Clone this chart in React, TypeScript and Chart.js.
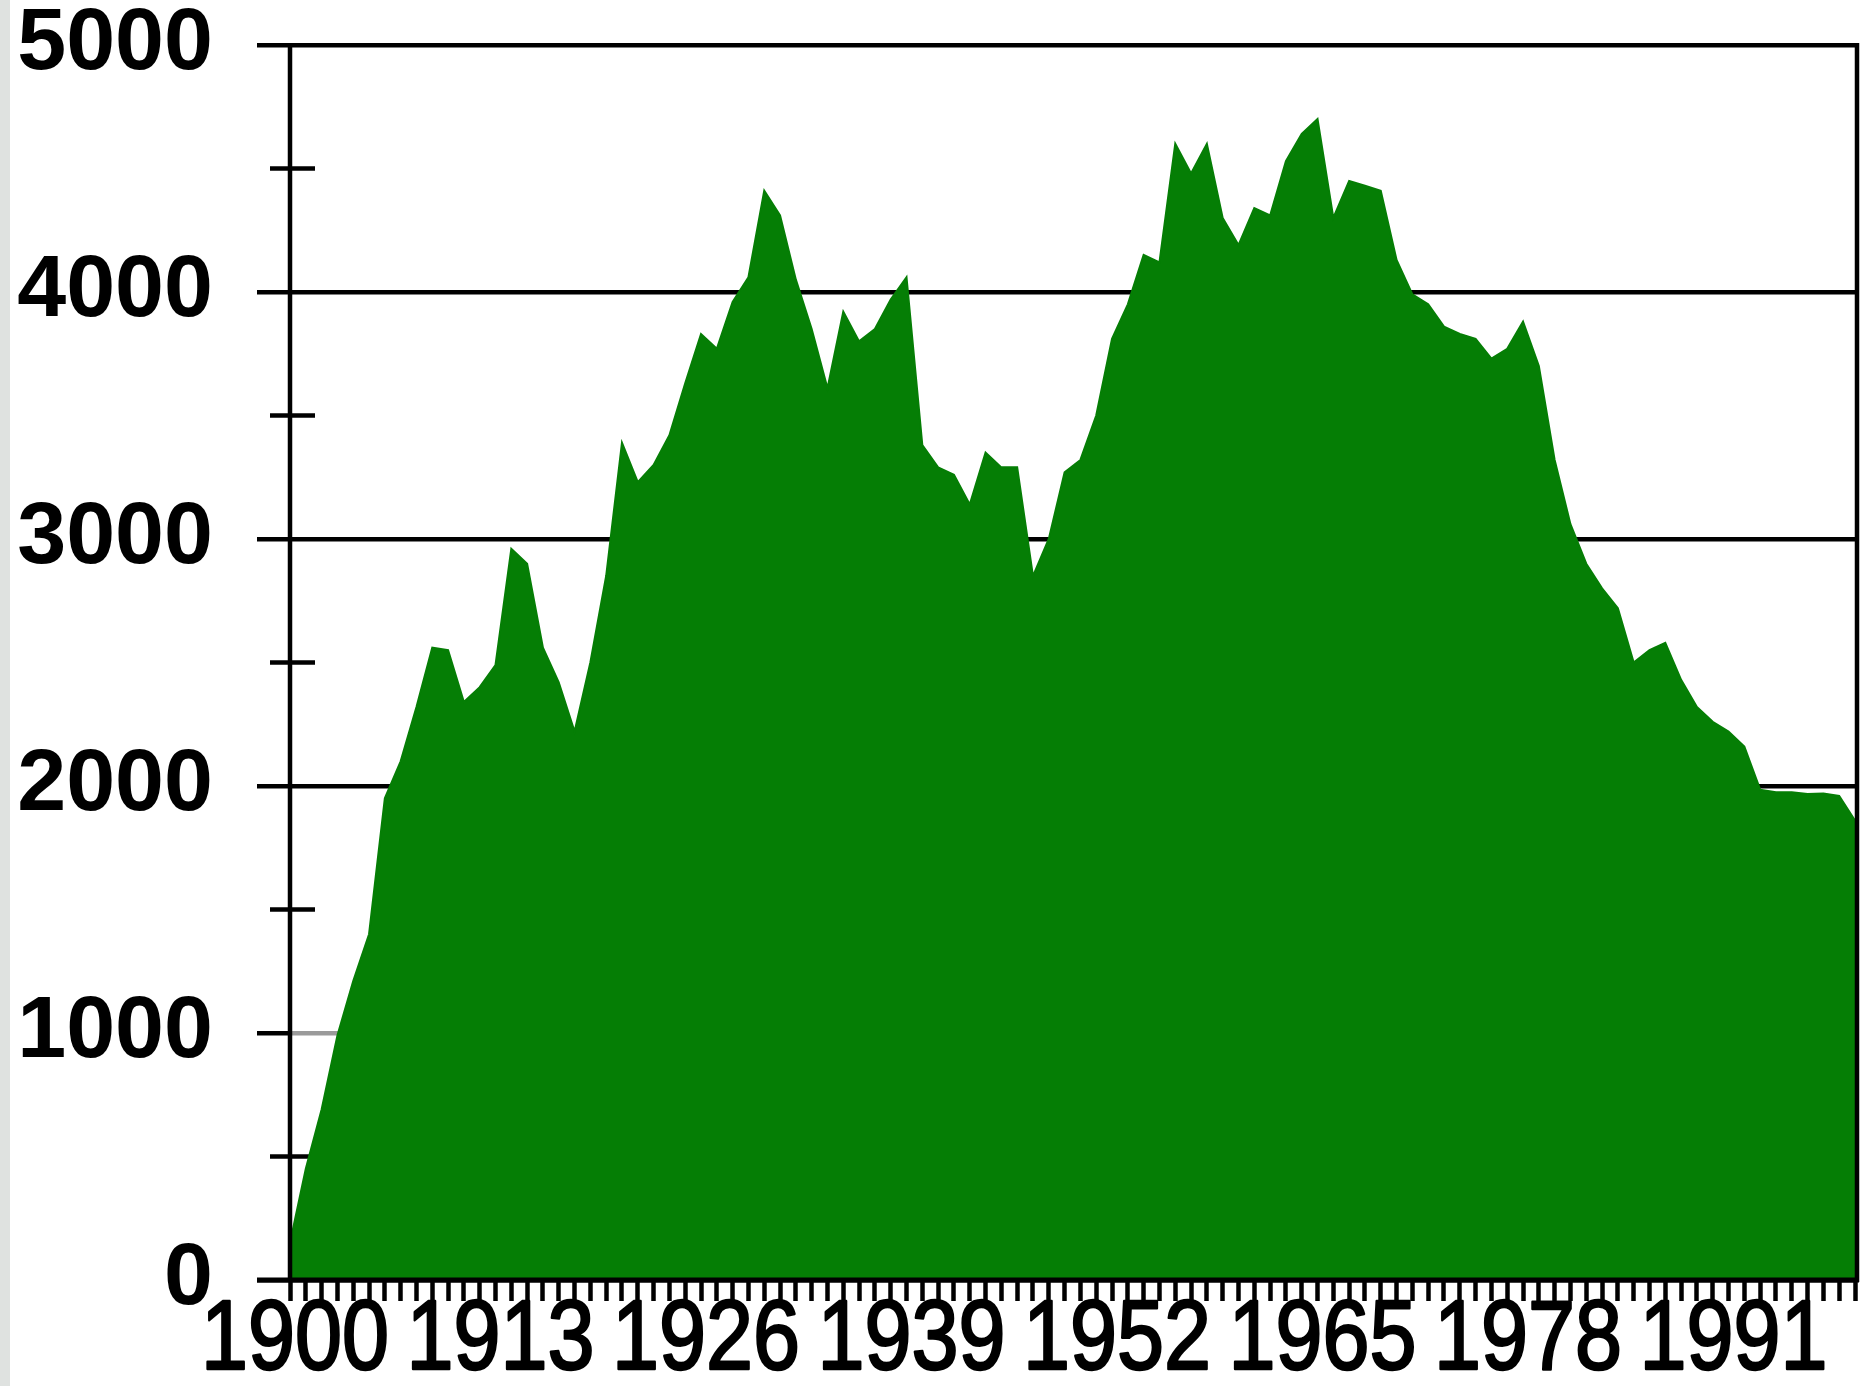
import React, { useEffect, useRef } from 'react';
import { Chart, registerables } from 'chart.js';

Chart.register(...registerables);

const years: string[] = [
  '1900','1901','1902','1903','1904','1905','1906','1907','1908','1909',
  '1910','1911','1912','1913','1914','1915','1916','1917','1918','1919',
  '1920','1921','1922','1923','1924','1925','1926','1927','1928','1929',
  '1930','1931','1932','1933','1934','1935','1936','1937','1938','1939',
  '1940','1941','1942','1943','1944','1945','1946','1947','1948','1949',
  '1950','1951','1952','1953','1954','1955','1956','1957','1958','1959',
  '1960','1961','1962','1963','1964','1965','1966','1967','1968','1969',
  '1970','1971','1972','1973','1974','1975','1976','1977','1978','1979',
  '1980','1981','1982','1983','1984','1985','1986','1987','1988','1989',
  '1990','1991','1992','1993','1994','1995','1996','1997','1998','1999',
];

const values: number[] = [
  150, 450, 690, 990, 1210, 1400, 1950, 2100, 2320, 2560,
  2550, 2340, 2400, 2490, 2960, 2900, 2560, 2420, 2220, 2500,
  2850, 3390, 3230, 3300, 3420, 3630, 3830, 3770, 3960, 4060,
  4410, 4310, 4050, 3850, 3610, 3920, 3800, 3850, 3970, 4060,
  3380, 3290, 3260, 3140, 3350, 3290, 3290, 2850, 3000, 3270,
  3320, 3500, 3810, 3950, 4150, 4120, 4600, 4480, 4600, 4300,
  4190, 4340, 4310, 4530, 4640, 4700, 4300, 4450, 4430, 4410,
  4130, 3990, 3950, 3860, 3830, 3810, 3730, 3770, 3880, 3700,
  3320, 3060, 2900, 2800, 2720, 2500, 2550, 2580, 2430, 2320,
  2260, 2220, 2160, 1985, 1975, 1975, 1968, 1970, 1960, 1860,
];

const xTickLabels: string[] = ['1900', '1913', '1926', '1939', '1952', '1965', '1978', '1991'];
const yMajorTicks: number[] = [0, 1000, 2000, 3000, 4000, 5000];
const yMinorTicks: number[] = [500, 1500, 2500, 3500, 4500];

const W = 1863;
const H = 1386;
const X_LABEL_SIZE = 98;
const X_LABEL_SQUEEZE = 0.862;

const axesPlugin = {
  id: 'axesPlugin',
  beforeDatasetsDraw(chart: any) {
    const { ctx, chartArea, scales } = chart;
    const y = scales.y;
    ctx.save();
    ctx.strokeStyle = '#000';
    ctx.lineWidth = 4.5;
    yMinorTicks.forEach((v) => {
      const py = y.getPixelForValue(v);
      ctx.beginPath();
      ctx.moveTo(chartArea.left - 20, py);
      ctx.lineTo(chartArea.left + 25, py);
      ctx.stroke();
    });
    ctx.restore();
  },
  afterDatasetsDraw(chart: any) {
    const { ctx, chartArea, scales } = chart;
    const y = scales.y;
    const y0 = y.getPixelForValue(0);
    const yTop = y.getPixelForValue(5000);
    ctx.save();
    ctx.strokeStyle = '#000';
    ctx.lineWidth = 5;
    ctx.beginPath();
    ctx.moveTo(chartArea.left - 33, y0);
    ctx.lineTo(chartArea.right + 4, y0);
    ctx.stroke();
    ctx.lineWidth = 4.5;
    ctx.beginPath();
    ctx.moveTo(chartArea.left, yTop - 2);
    ctx.lineTo(chartArea.left, y0 + 2);
    ctx.stroke();
    ctx.beginPath();
    ctx.moveTo(chartArea.right + 2, yTop - 2);
    ctx.lineTo(chartArea.right + 2, y0 + 2);
    ctx.stroke();
    ctx.restore();
  },
  afterDraw(chart: any) {
    const { ctx, scales } = chart;
    const xs = scales.x;
    ctx.save();
    ctx.fillStyle = '#000';
    ctx.strokeStyle = '#000';
    ctx.lineWidth = 2.5;
    ctx.lineJoin = 'round';
    ctx.font = `${X_LABEL_SIZE}px 'Liberation Sans', Arial, sans-serif`;
    ctx.textAlign = 'center';
    ctx.textBaseline = 'alphabetic';
    xTickLabels.forEach((lab) => {
      const idx = years.indexOf(lab);
      const px = xs.getPixelForValue(idx) + 5;
      ctx.save();
      ctx.translate(px, xs.top + 89);
      ctx.scale(X_LABEL_SQUEEZE, 1);
      ctx.fillText(lab, 0, 0);
      ctx.strokeText(lab, 0, 0);
      ctx.restore();
    });
    ctx.restore();
  },
};

export default function App() {
  const canvasRef = useRef<HTMLCanvasElement | null>(null);

  useEffect(() => {
    if (!canvasRef.current) return;
    const chart = new Chart(canvasRef.current, {
      type: 'line',
      data: {
        labels: years,
        datasets: [
          {
            data: values,
            fill: 'origin',
            backgroundColor: '#057e05',
            borderColor: '#057e05',
            borderWidth: 2,
            pointRadius: 0,
            tension: 0,
          },
        ],
      },
      options: {
        animation: false,
        responsive: false,
        devicePixelRatio: 1,
        layout: { padding: { left: 0, top: 45, right: 8, bottom: 0 } },
        plugins: {
          legend: { display: false },
          tooltip: { enabled: false },
          title: { display: false },
        },
        scales: {
          x: {
            type: 'category',
            offset: false,
            border: { display: false },
            grid: {
              drawOnChartArea: false,
              drawTicks: true,
              tickLength: 21,
              tickWidth: 4.5,
              tickColor: '#000',
            },
            ticks: {
              autoSkip: false,
              maxRotation: 0,
              minRotation: 0,
              padding: 0,
              callback: () => '',
            },
            afterFit: (scale: any) => {
              scale.height = 106;
              scale.paddingLeft = 0;
              scale.paddingRight = 0;
            },
          },
          y: {
            min: 0,
            max: 5000,
            border: { display: false },
            grid: {
              drawTicks: true,
              tickLength: 33,
              lineWidth: 4.5,
              tickWidth: 4.5,
              color: (ctx: any) => {
                const v = ctx.tick ? ctx.tick.value : 0;
                if (v === 1000) return '#9a9a9a';
                return yMajorTicks.includes(v) ? '#000' : 'rgba(0,0,0,0)';
              },
              tickColor: (ctx: any) => {
                const v = ctx.tick ? ctx.tick.value : 0;
                return yMajorTicks.includes(v) ? '#000' : 'rgba(0,0,0,0)';
              },
            },
            ticks: {
              stepSize: 500,
              padding: 44,
              color: '#000',
              font: {
                family: "'Liberation Sans', Arial, sans-serif",
                size: 88,
                weight: 'bold',
                lineHeight: 1,
              },
              callback: (value: any) => (yMajorTicks.includes(value as number) ? String(value) : ''),
            },
            afterFit: (scale: any) => {
              scale.width = 290;
              scale.paddingTop = 0;
              scale.paddingBottom = 0;
            },
          },
        },
      },
      plugins: [axesPlugin],
    });
    return () => chart.destroy();
  }, []);

  return (
    <div
      style={{
        position: 'fixed',
        left: 0,
        top: 0,
        width: W,
        height: H,
        background: '#ffffff',
        overflow: 'hidden',
      }}
    >
      <div
        style={{
          position: 'absolute',
          left: 0,
          top: 0,
          width: 10,
          height: H,
          background: '#dfe2e0',
        }}
      />
      <canvas
        ref={canvasRef}
        width={W}
        height={H}
        style={{ position: 'absolute', left: 0, top: 0, width: W, height: H }}
      />
    </div>
  );
}
